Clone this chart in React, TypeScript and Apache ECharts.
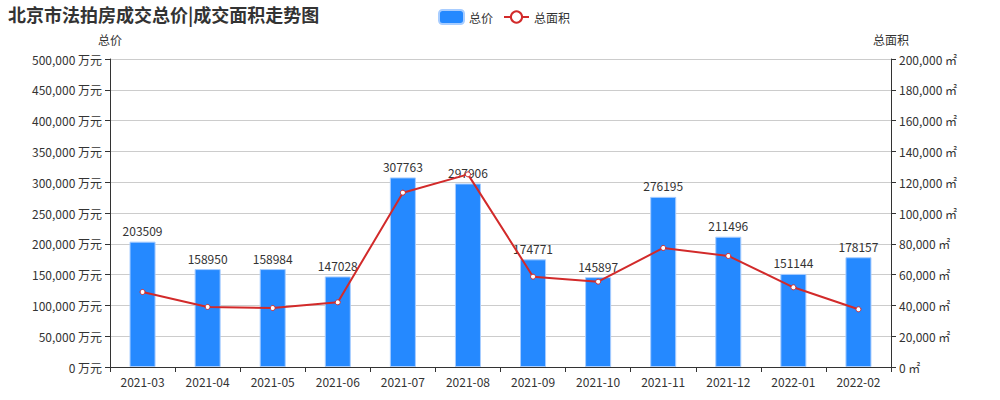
import React, { useEffect, useRef } from "react";
import * as echarts from "echarts";

const categories = ["2021-03", "2021-04", "2021-05", "2021-06", "2021-07", "2021-08", "2021-09", "2021-10", "2021-11", "2021-12", "2022-01", "2022-02"];
const totalPrice = [203509, 158950, 158984, 147028, 307763, 297906, 174771, 145897, 276195, 211496, 151144, 178157];
const totalArea = [48700, 39000, 38300, 42000, 113200, 125100, 58650, 55400, 77300, 72100, 51750, 37470];

const FONT = "'Noto Sans CJK SC', 'Noto Sans', sans-serif";

export default function App() {
  const ref = useRef<HTMLDivElement>(null);
  useEffect(() => {
    if (!ref.current) return;
    const chart = echarts.init(ref.current, undefined, { renderer: "svg" });
    chart.setOption({
      animation: false,
      textStyle: { fontFamily: FONT },
      title: {
        text: "北京市法拍房成交总价|成交面积走势图",
        left: 3,
        top: 0,
        textStyle: { fontSize: 18, fontWeight: "bold", color: "#333", fontFamily: FONT },
      },
      legend: {
        top: 4,
        left: 433,
        itemWidth: 25,
        itemHeight: 14,
        itemGap: 10,
        textStyle: { fontSize: 12, color: "#333", fontFamily: FONT },
        data: ["总价", "总面积"],
      },
      grid: { left: 110, right: 109, top: 59, bottom: 33 },
      xAxis: {
        type: "category",
        data: categories,
        axisLine: { lineStyle: { color: "#333" } },
        axisTick: { show: true, alignWithLabel: false, lineStyle: { color: "#333" } },
        axisLabel: { color: "#333", fontSize: 12, margin: 8 },
      },
      yAxis: [
        {
          type: "value",
          name: "总价",
          nameTextStyle: { color: "#333", fontSize: 12 },
          nameGap: 14,
          min: 0,
          max: 500000,
          interval: 50000,
          axisLine: { show: true, lineStyle: { color: "#333" } },
          axisTick: { show: true, lineStyle: { color: "#333" } },
          axisLabel: {
            color: "#333",
            fontSize: 12,
            formatter: (v: number) => v.toLocaleString("en-US") + " 万元",
          },
          splitLine: { show: true, lineStyle: { color: "#ccc" } },
        },
        {
          type: "value",
          name: "总面积",
          nameTextStyle: { color: "#333", fontSize: 12 },
          nameGap: 14,
          min: 0,
          max: 200000,
          interval: 20000,
          axisLine: { show: true, lineStyle: { color: "#333" } },
          axisTick: { show: true, lineStyle: { color: "#333" } },
          axisLabel: {
            color: "#333",
            fontSize: 12,
            formatter: (v: number) => v.toLocaleString("en-US") + " ㎡",
          },
          splitLine: { show: false },
        },
      ],
      series: [
        {
          name: "总价",
          type: "bar",
          yAxisIndex: 0,
          data: totalPrice,
          barWidth: "40%",
          itemStyle: { color: "#2589ff", borderColor: "#a8cdff", borderWidth: 1 },
          label: { show: true, position: "top", color: "#333", fontSize: 12 },
        },
        {
          name: "总面积",
          type: "line",
          yAxisIndex: 1,
          data: totalArea,
          symbol: "circle",
          symbolSize: 5,
          itemStyle: { color: "#fff", borderColor: "#d22a2a", borderWidth: 1 },
          lineStyle: { color: "#d22a2a", width: 2 },
        },
      ],
    });
    return () => chart.dispose();
  }, []);
  return <div ref={ref} style={{ width: 1000, height: 400, position: "absolute", left: 0, top: 0 }} />;
}
